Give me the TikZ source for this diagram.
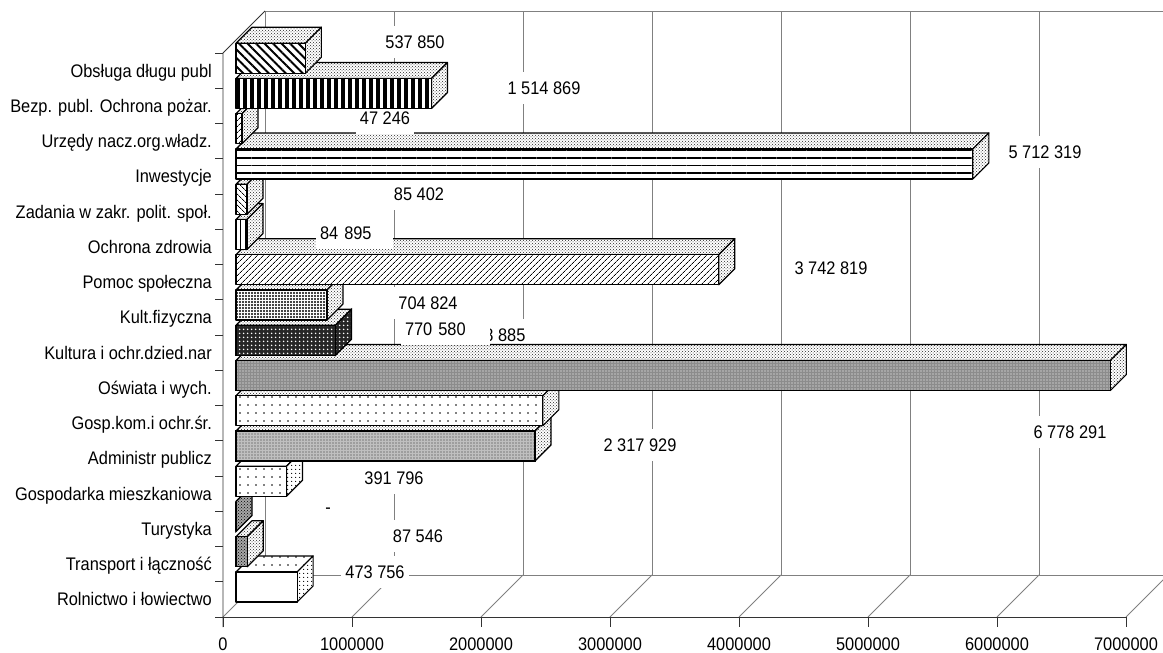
\documentclass[tikz,border=0pt]{standalone}
\usepackage{fontspec}
\setmainfont{Liberation Sans}[FakeStretch=0.9]
\usetikzlibrary{patterns,patterns.meta}

\tikzset{
  grid line/.style={gray, line width=0.9pt},
  axis line/.style={black!80, line width=0.9pt},
  face/.style={draw=black, line width=1.2pt, line join=round, preaction={fill=white}},
  plain/.style={face},
  lite/.style={face, pattern=crosshatch dots, pattern color=black!85},
  sparse/.style={face, pattern={Dots[distance=8pt, radius=0.9pt]}},
  fine/.style={face, pattern={Dots[distance=4pt, radius=0.7pt]}},
  darkdots/.style={draw=black, line width=1.2pt, preaction={fill=gray!70}, pattern=crosshatch dots, pattern color=black},
  greydots/.style={draw=black, line width=1.2pt, preaction={fill=gray!50}, pattern={Dots[distance=3pt, radius=0.7pt]}, pattern color=black!80},
  diamonds/.style={draw=black, line width=1.2pt, preaction={fill=black!45}, pattern={Dots[distance=3pt, radius=0.7pt]}, pattern color=white},
  nightdots/.style={draw=black, line width=1.2pt, preaction={fill=black!85}, pattern={Dots[distance=4pt, radius=1pt]}, pattern color=white},
  checks/.style={face, pattern={Dots[distance=3pt, radius=1.1pt]}, pattern color=black},
  nelines/.style={face, pattern={Lines[angle=45, distance=4pt, line width=0.7pt]}},
  nwlines/.style={face, pattern={Lines[angle=-45, distance=4pt, line width=0.7pt]}},
  nwbold/.style={face, pattern={Lines[angle=-45, distance=6pt, line width=2pt]}},
  vlines/.style={face, pattern={Lines[angle=90, distance=5pt, line width=0.7pt]}},
  vbold/.style={face, pattern={Lines[angle=90, distance=7pt, line width=3.5pt]}},
  hlines/.style={face, pattern={Lines[angle=0, distance=7.5pt, line width=1.3pt]}},
  cat/.style={anchor=east, text height=13pt, text depth=0pt, inner sep=0pt},
  tick/.style={text height=13pt, text depth=0pt, inner sep=0pt},
  val/.style={fill=white, text height=13pt, text depth=0pt, inner xsep=4pt, inner ysep=9.5pt},
  valwide/.style={val, text width=81pt, align=left},
  valmid/.style={val, text width=69pt, align=left},
}

\begin{document}
\begin{tikzpicture}[x=1pt, y=-1pt, font=\fontsize{18.2pt}{21pt}\selectfont]
  \useasboundingbox (0,0) rectangle (1163,653);

  % back wall and floor
  \draw[grid line] (265,575) -- (265,11) -- (1163,11);
  \foreach \k in {1,...,7}
    \draw[grid line] ({265+129*\k},11) -- ({265+129*\k},575);
  \draw[grid line] (265,575) -- (1163,575);
  \foreach \k in {0,...,7}
    \draw[grid line] ({223+129*\k},617) -- ({265+129*\k},575);

  % axes
  \draw[axis line] (265,11) -- (223,53) -- (223,627);
  \draw[axis line] (223,617) -- (1126,617);
  \foreach \k in {0,...,16}
    \draw[axis line] (215,{617-35.25*\k}) -- (223,{617-35.25*\k});
  \foreach \k/\t in {0/0,1/1000000,2/2000000,3/3000000,4/4000000,5/5000000,6/6000000,7/7000000} {
    \draw[axis line] ({223+129*\k},617) -- ({223+129*\k},627);
    \node[tick] (t\k) at ({223+129*\k},644) {\t};
  }

  % bars, each with its value
  \foreach \i/\v/\fs/\ts/\ss/\lx/\ly/\ls/\lt in {
      0/473.756/plain/sparse/fine/375/572/val/{473 756},
      1/87.546/darkdots/lite/lite/418/536/val/{87 546},
      2/0/darkdots/darkdots/darkdots/328/507/val/{-},
      3/391.796/sparse/sparse/fine/394/478/val/{391 796},
      4/2317.929/greydots/lite/lite/640/445/val/{2 317 929},
      5/2378.885/sparse/lite/lite/489/335/val/{2 378 885},
      6/6778.291/diamonds/lite/lite/1070/432/val/{6 778 291},
      7/770.58/nightdots/lite/nightdots/445.5/329/valwide/{770 580},
      8/704.824/checks/lite/lite/428/303/val/{704 824},
      9/3742.819/nelines/lite/lite/831/268/val/{3 742 819},
      10/84.895/vlines/lite/lite/354.5/233/valmid/{84 895},
      11/85.402/nwlines/lite/lite/419/194/val/{85 402},
      12/5712.319/hlines/lite/lite/1045/152/val/{5 712 319},
      13/47.246/nelines/lite/lite/385/118/val/{47 246},
      14/1514.869/vbold/lite/lite/544/88/val/{1 514 869},
      15/537.85/nwbold/lite/lite/415/42/val/{537 850}} {
    \pgfmathsetmacro\yb{602-35.25*\i}
    \pgfmathsetmacro\yt{\yb-30}
    \pgfmathsetmacro\xr{236+\v*0.129}
    \draw[\ts] (236,\yt) -- (252,\yt-16) -- (\xr+16,\yt-16) -- (\xr,\yt) -- cycle;
    \draw[\ss] (\xr,\yt) -- (\xr+16,\yt-16) -- (\xr+16,\yb-16) -- (\xr,\yb) -- cycle;
    \draw[\fs] (236,\yb) rectangle (\xr,\yt);
    \node[\ls] (v\i) at (\lx,\ly) {\lt};
  }

  % category names
  \foreach \i/\name in {0/Rolnictwo i łowiectwo, 1/Transport i łączność, 2/Turystyka,
      3/Gospodarka mieszkaniowa, 4/Administr publicz, 5/Gosp.kom.i ochr.śr.,
      6/Oświata i wych., 7/Kultura i ochr.dzied.nar, 8/Kult.fizyczna,
      9/Pomoc społeczna, 10/Ochrona zdrowia, 11/Zadania w zakr. polit. społ.,
      12/Inwestycje, 13/Urzędy nacz.org.władz., 14/Bezp. publ. Ochrona pożar.,
      15/Obsługa długu publ}
    \node[cat] (c\i) at (212,{599.4-35.25*\i}) {\name};
\end{tikzpicture}
\end{document}
